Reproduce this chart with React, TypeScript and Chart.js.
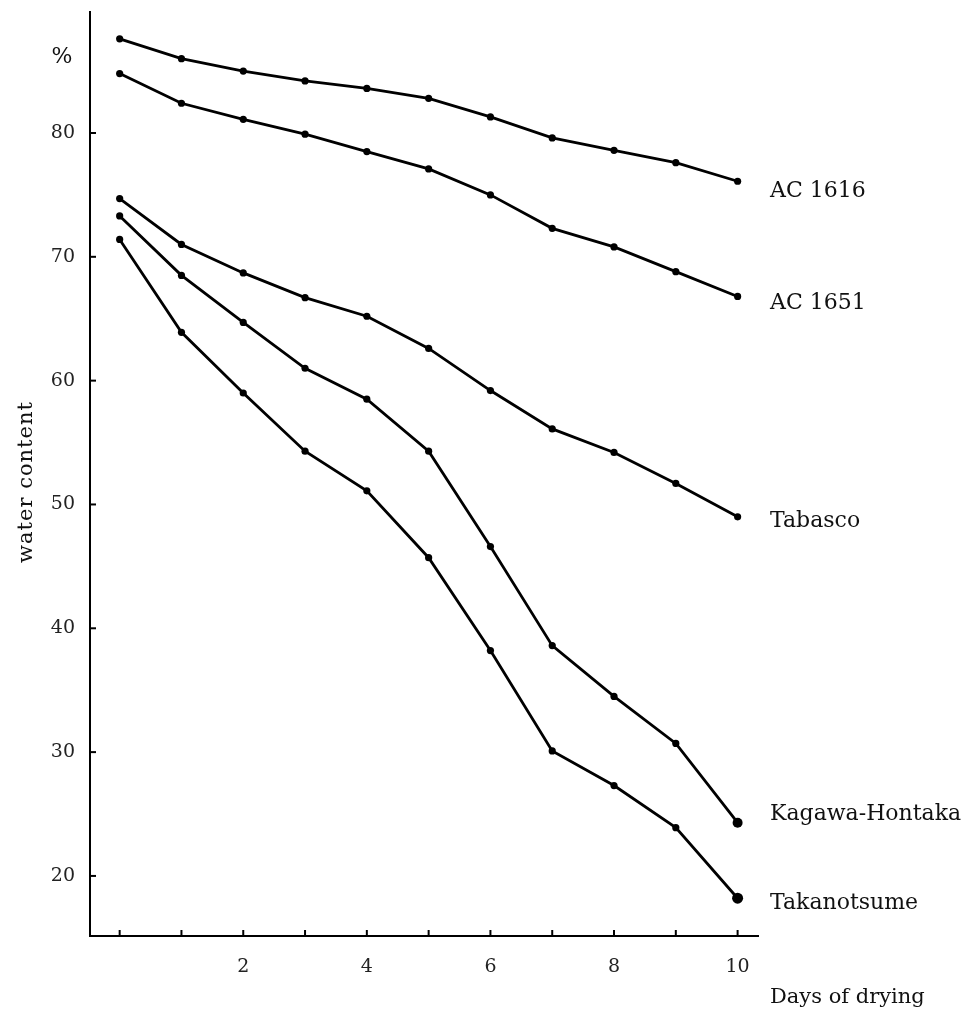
import React, { useEffect, useRef } from "react";
import { Chart, registerables } from "chart.js";

Chart.register(...registerables);

const days = [0, 1, 2, 3, 4, 5, 6, 7, 8, 9, 10];
const seriesNames = ["AC 1616", "AC 1651", "Tabasco", "Kagawa-Hontaka", "Takanotsume"];
const ac1616 = [87.6, 86.0, 85.0, 84.2, 83.6, 82.8, 81.3, 79.6, 78.6, 77.6, 76.1];
const ac1651 = [84.8, 82.4, 81.1, 79.9, 78.5, 77.1, 75.0, 72.3, 70.8, 68.8, 66.8];
const tabasco = [74.7, 71.0, 68.7, 66.7, 65.2, 62.6, 59.2, 56.1, 54.2, 51.7, 49.0];
const kagawaHontaka = [73.3, 68.5, 64.7, 61.0, 58.5, 54.3, 46.6, 38.6, 34.5, 30.7, 24.3];
const takanotsume = [71.4, 63.9, 59.0, 54.3, 51.1, 45.7, 38.2, 30.1, 27.3, 23.9, 18.2];
const yTickLabels = [20, 30, 40, 50, 60, 70, 80];
const xTickLabels = [2, 4, 6, 8, 10];

const allSeries = [ac1616, ac1651, tabasco, kagawaHontaka, takanotsume];
const labelOffsets = [10, 7, 4, -8, 5];
const endRadius = [3.6, 3.6, 3.6, 5, 5.5];

const SERIF = "'DejaVu Serif', serif";

const decorPlugin = {
  id: "decor",
  afterDraw(chart: any) {
    const ctx = chart.ctx;
    const xs = chart.scales.x;
    const ys = chart.scales.y;
    const area = chart.chartArea;
    ctx.save();
    ctx.strokeStyle = "#000";
    ctx.lineWidth = 2;
    ys.ticks.forEach((t: any) => {
      const py = ys.getPixelForValue(t.value);
      ctx.beginPath();
      ctx.moveTo(area.left, py);
      ctx.lineTo(area.left + 6, py);
      ctx.stroke();
    });
    xs.ticks.forEach((t: any) => {
      const px = xs.getPixelForValue(t.value);
      ctx.beginPath();
      ctx.moveTo(px, area.bottom);
      ctx.lineTo(px, area.bottom - 6);
      ctx.stroke();
    });
    ctx.fillStyle = "#111";
    ctx.font = `22px ${SERIF}`;
    ctx.textAlign = "left";
    ctx.textBaseline = "middle";
    allSeries.forEach((vals, i) => {
      const py = ys.getPixelForValue(vals[vals.length - 1]) + labelOffsets[i];
      ctx.fillText(seriesNames[i], area.right + 12, py);
    });
    ctx.font = `21px ${SERIF}`;
    ctx.textAlign = "left";
    ctx.fillText("Days of drying", area.right + 12, 998);
    ctx.font = `22px ${SERIF}`;
    ctx.textAlign = "center";
    ctx.fillText("%", 62, 57);
    ctx.save();
    ctx.translate(27, 482);
    ctx.rotate(-Math.PI / 2);
    ctx.font = `21px ${SERIF}`;
    (ctx as any).letterSpacing = "1px";
    ctx.fillText("water content", 0, 0);
    ctx.restore();
    ctx.restore();
  },
};

export default function App() {
  const ref = useRef<HTMLCanvasElement>(null);
  useEffect(() => {
    const canvas = ref.current!;
    const chart = new Chart(canvas, {
      type: "line",
      data: {
        datasets: allSeries.map((vals, i) => ({
          label: seriesNames[i],
          data: days.map((d, j) => ({ x: d, y: vals[j] })),
          borderColor: "#000",
          backgroundColor: "#000",
          borderWidth: 2.8,
          pointRadius: (c: any) => (c.dataIndex === days.length - 1 ? endRadius[i] : 3.6),
          pointBackgroundColor: "#000",
          pointBorderWidth: 0,
          tension: 0,
          clip: false as any,
        })),
      },
      options: {
        responsive: false,
        animation: false,
        layout: { padding: { top: 12, right: 218, left: 0, bottom: 0 } },
        plugins: { legend: { display: false }, tooltip: { enabled: false } },
        scales: {
          x: {
            type: "linear",
            min: -0.48,
            max: 10.33,
            grid: { display: false, drawTicks: false },
            border: { display: true, color: "#000", width: 2 },
            ticks: {
              stepSize: 1,
              includeBounds: false,
              autoSkip: false,
              maxRotation: 0,
              padding: 20,
              color: "#222",
              font: { family: SERIF, size: 19 },
              callback: (v: any) => (xTickLabels.includes(Number(v)) ? String(v) : ""),
            },
            afterFit: (s: any) => {
              s.height = 76;
              s.paddingLeft = 0;
              s.paddingRight = 0;
            },
          },
          y: {
            type: "linear",
            min: 15.15,
            max: 89.77,
            grid: { display: false, drawTicks: false },
            border: { display: true, color: "#000", width: 2 },
            ticks: {
              stepSize: 10,
              includeBounds: false,
              autoSkip: false,
              padding: 15,
              color: "#222",
              font: { family: SERIF, size: 19 },
              callback: (v: any) => (yTickLabels.includes(Number(v)) ? String(v) : ""),
            },
            afterFit: (s: any) => {
              s.width = 90;
              s.paddingTop = 0;
              s.paddingBottom = 0;
            },
          },
        },
      },
      plugins: [decorPlugin],
    });
    return () => chart.destroy();
  }, []);
  return (
    <div style={{ position: "fixed", left: 0, top: 0, width: 976, height: 1012, background: "#fff" }}>
      <canvas ref={ref} width={976} height={1012} style={{ width: 976, height: 1012, display: "block" }} />
    </div>
  );
}
